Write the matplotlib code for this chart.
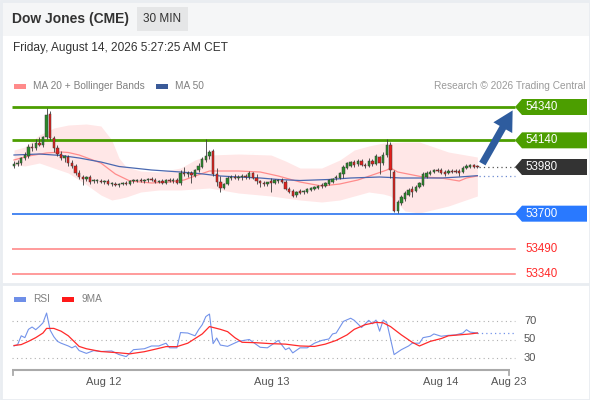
import numpy as np
import matplotlib
matplotlib.use("Agg")
import matplotlib.pyplot as plt
from matplotlib.patches import Rectangle, Polygon, FancyArrowPatch

plt.rcParams['font.family'] = ['Liberation Sans', 'DejaVu Sans']

W, H = 590, 400

# 30 min candles, Dow Jones (CME)
opens = [53986, 53998, 54004, 54034, 54046, 54100, 54094, 54124, 54112, 54160,
         54298, 54154, 54094, 54058, 54034, 54040, 54004, 53986, 53944, 53920,
         53908, 53920, 53896, 53896, 53896, 53890, 53896, 53878, 53878, 53872,
         53878, 53884, 53878, 53896, 53896, 53902, 53896, 53902, 53908, 53902,
         53890, 53896, 53884, 53902, 53896, 53902, 53884, 53944, 53938, 53944,
         53926, 53962, 53980, 54022, 54046, 54076, 53938, 53890, 53854, 53878,
         53914, 53920, 53914, 53920, 53926, 53920, 53944, 53914, 53896, 53884,
         53878, 53896, 53884, 53896, 53902, 53890, 53848, 53836, 53812, 53836,
         53830, 53830, 53842, 53848, 53854, 53872, 53866, 53878, 53890, 53914,
         53914, 53938, 53974, 53986, 54010, 53998, 54016, 53992, 53986, 54016,
         53998, 54040, 54004, 54052, 54112, 53950, 53716, 53764, 53788, 53812,
         53848, 53836, 53860, 53872, 53920, 53938, 53950, 53962, 53962, 53950,
         53944, 53956, 53956, 53956, 53950, 53974, 53980, 53992, 53986]
highs = [54016, 54022, 54040, 54070, 54118, 54124, 54148, 54160, 54166, 54334,
         54316, 54166, 54112, 54076, 54052, 54052, 54022, 53998, 53962, 53932,
         53926, 53932, 53908, 53908, 53908, 53902, 53908, 53890, 53890, 53884,
         53890, 53896, 53902, 53908, 53908, 53914, 53908, 53914, 53920, 53914,
         53902, 53908, 53908, 53914, 53914, 53914, 53962, 53980, 53956, 53956,
         53968, 54004, 54040, 54148, 54082, 54088, 53974, 53926, 53884, 53926,
         53932, 53938, 53932, 53938, 53938, 53956, 53950, 53938, 53902, 53896,
         53890, 53914, 53908, 53908, 53914, 53902, 53860, 53848, 53836, 53848,
         53842, 53854, 53860, 53866, 53872, 53884, 53890, 53908, 53914, 53932,
         53950, 53992, 54010, 54016, 54022, 54028, 54028, 54004, 54034, 54028,
         54058, 54046, 54070, 54148, 54130, 53962, 53782, 53812, 53836, 53854,
         53866, 53872, 53890, 53950, 53956, 53962, 53968, 53974, 53974, 53962,
         53968, 53968, 53968, 53968, 53986, 53998, 53998, 53998, 53992]
lows = [53974, 53986, 53992, 54022, 54034, 54076, 54082, 54106, 54100, 54148,
        54142, 54070, 54046, 54022, 54010, 53986, 53974, 53932, 53908, 53872,
        53896, 53878, 53884, 53884, 53884, 53878, 53872, 53866, 53866, 53860,
        53872, 53872, 53872, 53884, 53890, 53890, 53884, 53890, 53896, 53884,
        53884, 53878, 53878, 53890, 53884, 53878, 53872, 53926, 53920, 53884,
        53920, 53950, 53974, 54010, 54028, 53926, 53866, 53830, 53848, 53872,
        53902, 53908, 53902, 53902, 53908, 53908, 53908, 53878, 53860, 53866,
        53866, 53830, 53878, 53884, 53884, 53842, 53824, 53800, 53800, 53818,
        53818, 53824, 53836, 53842, 53848, 53854, 53860, 53872, 53884, 53902,
        53908, 53914, 53968, 53980, 53980, 53986, 53986, 53974, 53980, 53986,
        53992, 53938, 53992, 54040, 53914, 53710, 53704, 53752, 53776, 53806,
        53800, 53830, 53854, 53866, 53914, 53932, 53944, 53950, 53938, 53926,
        53938, 53944, 53944, 53926, 53944, 53968, 53974, 53974, 53974]
closes = [53998, 54004, 54034, 54052, 54100, 54094, 54124, 54112, 54160, 54292,
          54154, 54094, 54058, 54034, 54046, 54004, 53986, 53944, 53920, 53908,
          53920, 53890, 53896, 53896, 53890, 53896, 53878, 53878, 53872, 53878,
          53884, 53878, 53896, 53896, 53902, 53896, 53902, 53908, 53902, 53890,
          53896, 53884, 53902, 53896, 53902, 53884, 53944, 53938, 53944, 53932,
          53962, 53986, 54028, 54046, 54070, 53938, 53890, 53854, 53878, 53914,
          53920, 53914, 53920, 53926, 53920, 53944, 53914, 53896, 53884, 53878,
          53890, 53884, 53902, 53902, 53890, 53848, 53830, 53806, 53830, 53824,
          53836, 53848, 53854, 53860, 53866, 53866, 53884, 53902, 53908, 53920,
          53944, 53980, 54004, 54010, 53992, 54016, 53992, 53986, 54016, 53998,
          54046, 54004, 54052, 54112, 53962, 53716, 53770, 53800, 53824, 53842,
          53830, 53860, 53884, 53938, 53944, 53950, 53962, 53956, 53944, 53938,
          53956, 53950, 53950, 53944, 53974, 53986, 53992, 53980, 53980]

# moving averages and Bollinger bands, read at some bars
ma50_idx = [0, 7, 13, 18, 24, 29, 38, 46, 51, 57, 62, 68, 73, 79, 87, 93, 101, 107, 118, 123, 128]
ma50 = [54052, 54058, 54049, 54034, 54010, 53983, 53962, 53950, 53941, 53926, 53920,
        53914, 53905, 53899, 53905, 53914, 53920, 53914, 53914, 53920, 53928]
ma20_idx = [0, 4, 9, 13, 15, 18, 24, 28, 32, 38, 43, 47, 50, 54, 58, 62, 68, 73, 79,
            85, 90, 95, 99, 103, 104, 106, 113, 118, 123, 125, 128]
ma20 = [54022, 54046, 54064, 54070, 54067, 54052, 54004, 53938, 53896, 53884, 53890,
        53902, 53926, 53956, 53956, 53956, 53950, 53926, 53890, 53866, 53878, 53902,
        53932, 53962, 53974, 53950, 53920, 53914, 53896, 53914, 53926]
band_idx = [0, 3, 7, 11, 15, 20, 24, 27, 29, 31, 35, 40, 46, 50, 54, 62, 71, 75, 79,
            85, 90, 94, 98, 102, 104, 108, 112, 120, 128]
band_upper = [54082, 54100, 54172, 54214, 54232, 54238, 54226, 54142, 54034, 53980,
              53956, 53950, 53974, 54022, 54052, 54058, 54052, 54016, 53974, 53974,
              54022, 54082, 54106, 54124, 54127, 54130, 54130, 54070, 54040]
band_lower = [53992, 53986, 54004, 53974, 53944, 53874, 53812, 53782, 53790, 53800,
              53830, 53842, 53842, 53848, 53854, 53824, 53806, 53794, 53782, 53770,
              53782, 53806, 53830, 53818, 53806, 53716, 53704, 53746, 53806]

# RSI and its 9 period MA
rsi_idx = [0, 1, 2, 3, 4, 5, 6, 7, 8, 9, 10, 11, 12, 13, 15, 16, 17, 18, 20, 22, 24,
           27, 29, 31, 33, 36, 38, 40, 42, 43, 45, 46, 48, 50, 51, 52, 53, 54, 55, 56,
           57, 59, 62, 65, 68, 70, 73, 75, 76, 77, 79, 81, 83, 85, 87, 88, 89, 91, 93,
           94, 96, 98, 99, 100, 101, 102, 103, 105, 107, 109, 110, 112, 113, 115, 116,
           118, 120, 122, 124, 125, 126, 128]
rsi = [43, 44.5, 54, 52, 61, 63.5, 60.6, 64, 68, 78.6, 60, 53, 48, 46, 43, 41, 43, 38,
       35, 38, 37, 37.6, 33.7, 31.5, 39, 40, 43, 43, 46, 41, 41, 57.5, 57, 54, 60.6, 66,
       74.8, 77.5, 45.5, 51.6, 44, 42.6, 48, 50, 41.6, 41, 49, 39, 41, 35.5, 41, 41, 46,
       49, 50.6, 56, 57, 69.6, 73, 70.7, 63, 70.7, 67, 71, 59, 71, 68, 33.7, 39, 43, 46,
       46, 52, 53.5, 56, 53.5, 54.5, 55, 57, 60.6, 58, 57]
rsi_ma_idx = [0, 2, 4, 6, 8, 9, 11, 13, 15, 18, 20, 24, 29, 32, 36, 39, 42, 45, 48, 50,
              52, 54, 57, 59, 61, 63, 67, 71, 75, 79, 83, 86, 89, 92, 94, 97, 100, 102,
              104, 107, 110, 112, 115, 118, 120, 123, 126, 128]
rsi_ma = [43.5, 44.5, 48, 52, 57, 62, 62, 59, 54, 42.5, 40, 37, 35.6, 34.5, 36.8, 39.5,
          42.3, 42.3, 46, 51, 56, 64, 61, 58.5, 52, 47, 46.5, 45.5, 45, 43, 42.5, 45, 49,
          55, 61, 66, 68.5, 68, 64, 55, 47, 43, 48, 51, 54, 55, 56, 57]

resistances = [54340, 54140]
last_price = 53980
ma50_last = 53928
support = 53700
red_levels = [53490, 53340]

date_pos = [24.9, 71.3, 118.0, 136.7]
date_labels = ["Aug 12", "Aug 13", "Aug 14", "Aug 23"]


def px2i(x):
    # pixel column -> bar index
    return (x - 14) / 3.62


def fig_rect(fig, x, y, w, h, color, **kw):
    r = Rectangle((x / W, 1 - (y + h) / H), w / W, h / H, transform=fig.transFigure,
                  facecolor=color, edgecolor='none', **kw)
    fig.add_artist(r)


def fig_text(fig, x, y, s, **kw):
    fig.text(x / W, 1 - y / H, s, **kw)


fig = plt.figure(figsize=(W / 100, H / 100), dpi=100)
fig.patch.set_facecolor('white')

# header
fig_rect(fig, 0, 0, W, 36, '#f5f6f7')
fig_rect(fig, 137, 7, 51, 24, '#e5e6e7')
fig_text(fig, 12, 19, "Dow Jones (CME)", fontsize=10, fontweight='bold', color='#333333', va='center')
fig_text(fig, 162.5, 19.5, "30 MIN", fontsize=8.5, color='#333333', va='center', ha='center')
fig_text(fig, 13, 48, "Friday, August 14, 2026 5:27:25 AM CET", fontsize=8.6, color='#333333', va='center')

# legend
fig_rect(fig, 14, 83.5, 12, 5, '#ff8a8a')
fig_text(fig, 33, 86, "MA 20 + Bollinger Bands", fontsize=7.3, color='#808080', va='center')
fig_rect(fig, 156, 83.5, 12, 5, '#3a5a98')
fig_text(fig, 175, 86, "MA 50", fontsize=7.3, color='#808080', va='center')
fig_text(fig, 585, 86, "Research \u00a9 2026 Trading Central", fontsize=7.3, color='#9a9a9a', va='center', ha='right')

fig_rect(fig, 14, 296.5, 12, 5, '#6f8fe8')
fig_text(fig, 33, 299, "RSI", fontsize=7.3, color='#808080', va='center')
fig_rect(fig, 62, 296.5, 12, 5, '#ff1a1a')
fig_text(fig, 81, 299, "9MA", fontsize=7.3, color='#808080', va='center')

# frame and panel separator
fig.add_artist(plt.Line2D([0, 1], [1 - 283.5 / H] * 2, transform=fig.transFigure, color='#e9edf1', lw=2))
fig.add_artist(Rectangle((0.5 / W, 0.5 / H), (W - 1) / W, (H - 1) / H, transform=fig.transFigure,
                         facecolor='none', edgecolor='#e9edf1', lw=2))

# main price panel
ax = fig.add_axes([12 / W, 1 - 280 / H, 576 / W, 185 / H])
ax.set_facecolor('none')
ax.set_xlim(px2i(12), px2i(588))
ax.set_ylim(54982 - 6 * 280, 54982 - 6 * 95)
ax.axis('off')

ax.fill_between(band_idx, band_lower, band_upper, color='#ffe3e3', lw=0, alpha=0.85, zorder=1)
ax.plot(ma20_idx, ma20, color='#ff8c8c', lw=0.9, zorder=2)
ax.plot(ma50_idx, ma50, color='#4a68b0', lw=0.9, zorder=2)

x_end = px2i(515)
for lvl in resistances:
    ax.plot([px2i(12), x_end], [lvl, lvl], color='#4c9e00', lw=2, zorder=3, solid_capstyle='butt')
ax.plot([px2i(12), x_end], [support, support], color='#3a7ef0', lw=1.3, zorder=3)
for lvl in red_levels:
    ax.plot([px2i(12), x_end], [lvl, lvl], color='#ff8080', lw=1.1, zorder=3)
    ax.text(px2i(525), lvl, str(lvl), color='#ff2a2a', fontsize=8.3, va='center', ha='left')

n = len(closes)
idx = np.arange(n)
o = np.array(opens)
c = np.array(closes)
up = c >= o
body = np.where(np.abs(c - o) < 4, 4, np.abs(c - o))
bottom = np.minimum(o, c)
ax.vlines(idx, lows, highs, color='#3a3a3a', lw=0.6, zorder=4)
ax.bar(idx, body, bottom=bottom, width=0.66, color=np.where(up, '#2a8a2a', '#e3201c'),
       edgecolor='#3a3a3a', linewidth=0.35, zorder=5)

# projections from the last bar
ax.plot([n - 0.5, x_end], [last_price, last_price], color='#555555', lw=0.9, ls=(0, (1, 2.5)), zorder=3)
ax.plot([n - 0.5, x_end], [ma50_last, ma50_last], color='#6c8ad0', lw=0.9, ls=(0, (1, 2.5)), zorder=3)

arrow = FancyArrowPatch((px2i(481), last_price + 6), (px2i(514), resistances[0] - 6),
                        arrowstyle='simple,head_width=1.2,head_length=1.1,tail_width=0.4',
                        mutation_scale=13, color='#2e5c9e', lw=0, zorder=6)
ax.add_patch(arrow)

# price tags
tags = [(resistances[0], '#4c9e00'), (resistances[1], '#4c9e00'),
        (last_price, '#333333'), (support, '#2979ff')]
hh = 8 * 6
for lvl, col in tags:
    pts = [(px2i(515), lvl), (px2i(522), lvl + hh), (px2i(587), lvl + hh),
           (px2i(587), lvl - hh), (px2i(522), lvl - hh)]
    ax.add_patch(Polygon(pts, closed=True, facecolor=col, edgecolor='none', zorder=6, clip_on=False))
    ax.text(px2i(525), lvl, str(lvl), color='white', fontsize=8.3, va='center', ha='left', zorder=7)

# RSI panel
ax2 = fig.add_axes([12 / W, 1 - 395 / H, 576 / W, 105 / H])
ax2.set_facecolor('none')
ax2.set_xlim(px2i(12), px2i(588))
r_lo = 70 - (395 - 321) / 0.925
r_hi = 70 + (321 - 290) / 0.925
ax2.set_ylim(r_lo, r_hi)
ax2.axis('off')

for g in [70, 50, 30]:
    ax2.plot([px2i(12), x_end], [g, g], color='#b0b0b0', lw=0.8, ls=(0, (1, 3)))
    ax2.text(px2i(524), g, str(g), color='#555555', fontsize=8, va='center', ha='left')

ax2.plot(rsi_idx, rsi, color='#7393ea', lw=0.8, zorder=3)
ax2.plot(rsi_ma_idx, rsi_ma, color='#ff2a2a', lw=0.9, zorder=4)
ax2.plot([rsi_idx[-1], x_end], [rsi[-1], rsi[-1]], color='#7393ea', lw=0.9, ls=(0, (1, 2.5)))

# time axis
y_axis = 70 - (370 - 321) / 0.925
y_tick = 70 - (375 - 321) / 0.925
y_lab = 70 - (382 - 321) / 0.925
ax2.plot([px2i(12), px2i(510)], [y_axis, y_axis], color='#aaaaaa', lw=1.5, solid_capstyle='butt')
for xe in [px2i(12.7), px2i(509.3)]:
    ax2.plot([xe, xe], [y_axis, y_tick], color='#aaaaaa', lw=1.3)
for p, lab in zip(date_pos, date_labels):
    ax2.text(p, y_lab, lab, color='#555555', fontsize=8, ha='center', va='center')

fig.savefig("out.png", dpi=100)
